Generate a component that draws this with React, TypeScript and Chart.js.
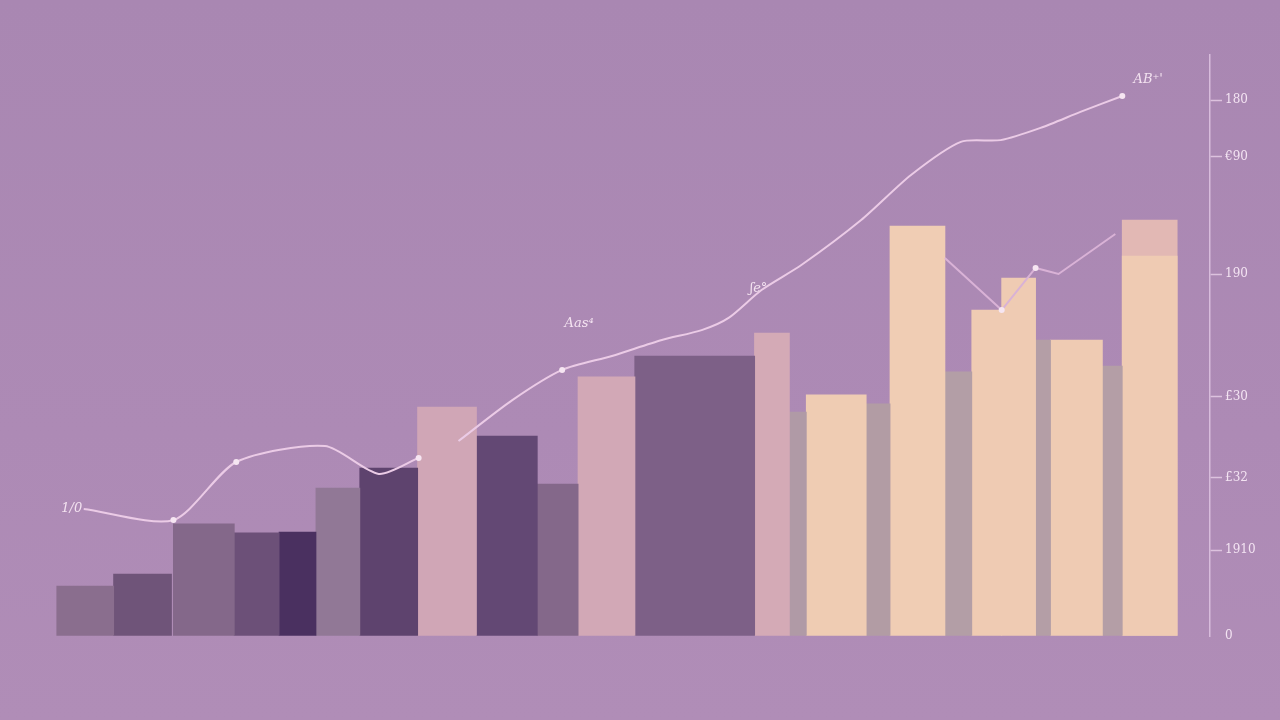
import { useEffect, useRef } from "react";
import { Chart, registerables } from "chart.js";
Chart.register(...registerables);

// x domain runs 0..1210 units across the plot
const barStarts = [53, 110, 170, 231, 276, 313, 357, 415, 474, 535, 576, 633, 753, 788, 805, 865, 889, 944, 971, 1001, 1035, 1050, 1102, 1122, 1122];
const barEnds = [110, 168, 231, 276, 313, 357, 415, 474, 535, 576, 633, 753, 788, 805, 865, 889, 944, 971, 1001, 1035, 1050, 1102, 1122, 1177, 1177];
const barValues = [17.2, 21.3, 38.6, 35.5, 35.8, 50.9, 57.8, 78.8, 68.8, 52.3, 89.2, 96.4, 104.3, 77.1, 83.0, 79.9, 141.1, 90.9, 112.2, 123.2, 101.9, 101.9, 92.9, 130.8, 143.2];
const barColors = [
  "#8A6E8E", "#6F5479", "#84688A", "#6C5078", "#4A3060", "#917896", "#5E436E", "#D0A6B6",
  "#634874", "#84688A", "#D2A8B6", "#7D6087", "#D4AAB6", "#B09AA6", "#EFCCB3", "#B29CA4",
  "#F0CDB4", "#B39EA6", "#EFCBB3", "#EFCBB3", "#B49EA6", "#EFCBB3", "#B49EA6", "#EFCBB3", "#E2B8B4",
];

const lineX = [80, 170, 233, 322, 376, 416, 436, 456, 510, 560, 610, 660, 700, 727, 760, 800, 860, 910, 960, 1000, 1040, 1080, 1122];
const lineY = [43.7, 39.9, 59.9, 65.4, 55.8, 61.3, null, 67.1, 81.2, 91.6, 96.4, 101.9, 105.3, 109.5, 119.1, 127.7, 143.2, 158.7, 170.1, 170.7, 174.9, 180.4, 185.9];
const lineDots = [0, 3, 3, 0, 0, 3, 0, 0, 0, 3, 0, 0, 0, 0, 0, 0, 0, 0, 0, 0, 0, 0, 3];

const line2X = [944, 1001, 1035, 1058, 1115];
const line2Y = [130.1, 112.2, 126.7, 124.6, 138.4];
const line2Dots = [0, 3, 3, 0, 0];

const tickValues = [0, 29.6, 54.4, 82.3, 124.6, 164.9, 184.5];
const tickLabels = ["0", "1910", "£32", "£30", "190", "€90", "180"];

const noteTexts = ["1/0", "Aas⁴", "ʃe°", "AB⁺'"];
const noteX = [68, 577, 757, 1148];
const noteY = [43.7, 107.5, 119.5, 191.5];

export default function App() {
  const ref = useRef<HTMLCanvasElement | null>(null);
  useEffect(() => {
    if (!ref.current) return;
    const barSets: any[] = barValues.map((v, i) => ({
      type: "bar",
      data: [{ x: (barStarts[i] + barEnds[i]) / 2, y: v }],
      backgroundColor: barColors[i],
      borderWidth: 0,
      barThickness: barEnds[i] - barStarts[i],
      grouped: false,
      order: 2,
    }));
    const notes = {
      id: "notes",
      afterDatasetsDraw(chart: any) {
        const { ctx, scales } = chart;
        ctx.save();
        ctx.fillStyle = "#F3E2F0";
        ctx.font = "italic 13px 'DejaVu Serif', serif";
        ctx.textAlign = "center";
        ctx.textBaseline = "middle";
        noteTexts.forEach((t, i) => {
          ctx.fillText(t, scales.x.getPixelForValue(noteX[i]), scales.y.getPixelForValue(noteY[i]));
        });
        ctx.restore();
      },
    };
    const chart = new Chart(ref.current, {
      type: "bar",
      data: {
        datasets: [
          ...barSets,
          {
            type: "line",
            data: lineX.map((x, i) => ({ x, y: lineY[i] })),
            borderColor: "#EBCBE6",
            borderWidth: 2,
            tension: 0.25,
            spanGaps: false,
            pointRadius: lineDots,
            pointBackgroundColor: "#F6E6F2",
            pointBorderWidth: 0,
            order: 0,
          },
          {
            type: "line",
            data: line2X.map((x, i) => ({ x, y: line2Y[i] })),
            borderColor: "#D9B2D6",
            borderWidth: 2,
            tension: 0,
            pointRadius: line2Dots,
            pointBackgroundColor: "#F6E6F2",
            pointBorderWidth: 0,
            order: 0,
          },
        ] as any,
      },
      options: {
        animation: false,
        responsive: true,
        maintainAspectRatio: false,
        layout: { padding: { left: 0, top: 55, bottom: 84, right: 0 } },
        plugins: { legend: { display: false }, tooltip: { enabled: false } },
        scales: {
          x: { type: "linear", min: 0, max: 1210, offset: false, display: false },
          y: {
            position: "right",
            min: 0,
            max: 200,
            afterFit(scale: any) {
              scale.width = 70;
            },
            afterBuildTicks(scale: any) {
              scale.ticks = tickValues.map((v) => ({ value: v }));
            },
            border: { display: true, color: "#D8BCDC", width: 1.5 },
            grid: {
              drawOnChartArea: false,
              drawTicks: true,
              tickLength: 12,
              tickWidth: 1.5,
              tickColor: (c: any) => (c.index === 0 ? "rgba(0,0,0,0)" : "#DCC2DE"),
            },
            ticks: {
              padding: 3,
              color: "#F3E3F2",
              font: { family: "'DejaVu Serif', serif", size: 12 },
              callback: (_v: any, i: number) => tickLabels[i],
            },
          },
        },
      },
      plugins: [notes],
    });
    return () => chart.destroy();
  }, []);
  return (
    <div
      style={{
        position: "fixed",
        left: 0,
        top: 0,
        width: 1280,
        height: 720,
        background: "linear-gradient(180deg, #A987B2 0%, #AD8AB5 60%, #B08DB7 100%)",
      }}
    >
      <canvas ref={ref} />
    </div>
  );
}
